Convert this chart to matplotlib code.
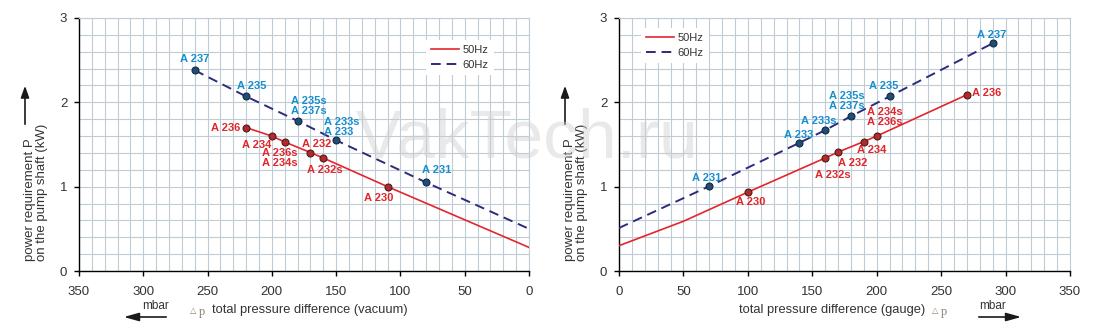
import matplotlib
matplotlib.use("Agg")
import matplotlib.pyplot as plt
from matplotlib.patches import FancyArrowPatch
from matplotlib.ticker import MultipleLocator

plt.rcParams['font.family'] = ['Liberation Sans', 'DejaVu Sans']

# ---------------- data ----------------
# vacuum operation, 50 Hz
vac_50_pumps = ["A 236", "A 234", "A 236s\nA 234s", "A 232", "A 232s", "A 230"]
vac_50_dp = [220, 200, 190, 170, 160, 110]
vac_50_kw = [1.70, 1.60, 1.53, 1.405, 1.34, 1.00]
vac_50_tail_dp = [0]
vac_50_tail_kw = [0.28]

# vacuum operation, 60 Hz
vac_60_pumps = ["A 237", "A 235", "A 235s\nA 237s", "A 233s\nA 233", "A 231"]
vac_60_dp = [260, 220, 180, 150, 80]
vac_60_kw = [2.38, 2.07, 1.78, 1.55, 1.05]
vac_60_tail_dp = [0]
vac_60_tail_kw = [0.50]

# pressure operation, 50 Hz
prs_50_pumps = ["A 230", "A 232s", "A 232", "A 234", "A 234s\nA 236s", "A 236"]
prs_50_dp = [100, 160, 170, 190, 200, 270]
prs_50_kw = [0.935, 1.34, 1.41, 1.535, 1.60, 2.09]
prs_50_head_dp = [0, 50]
prs_50_head_kw = [0.30, 0.59]

# pressure operation, 60 Hz
prs_60_pumps = ["A 231", "A 233", "A 233s", "A 235s\nA 237s", "A 235", "A 237"]
prs_60_dp = [70, 140, 160, 180, 210, 290]
prs_60_kw = [1.005, 1.52, 1.67, 1.835, 2.07, 2.70]
prs_60_head_dp = [0]
prs_60_head_kw = [0.51]

x_ticks = [0, 50, 100, 150, 200, 250, 300, 350]
y_ticks = [0, 1, 2, 3]

# ---------------- styling ----------------
W, H = 1096, 335
RED = '#e3262b'
NAVY = '#2e2a7c'
RED_TXT = '#e0262b'
BLUE_TXT = '#168fcf'
GRID = '#c0cbd8'
TXT = '#333333'

# label placement: (dx px, dy px, ha, va, multialignment); dy positive = up
vac_50_place = [(-6, 0, 'right', 'center', 'center'),
                (-15, -9, 'center', 'center', 'center'),
                (-5, -16, 'center', 'center', 'center'),
                (6, 9, 'center', 'center', 'center'),
                (2, -12, 'center', 'center', 'center'),
                (-9, -11, 'center', 'center', 'center')]
vac_60_place = [(0, 11, 'center', 'center', 'center'),
                (6, 10, 'center', 'center', 'center'),
                (11, 15, 'center', 'center', 'center'),
                (-12, 13, 'left', 'center', 'left'),
                (10, 12, 'center', 'center', 'center')]
prs_50_place = [(3, -10, 'center', 'center', 'center'),
                (8, -17, 'center', 'center', 'center'),
                (15, -11, 'center', 'center', 'center'),
                (8, -8, 'center', 'center', 'center'),
                (8, 19, 'center', 'center', 'center'),
                (5, 2, 'left', 'center', 'center')]
prs_60_place = [(-3, 8, 'center', 'center', 'center'),
                (-1, 8, 'center', 'center', 'center'),
                (-6, 9, 'center', 'center', 'center'),
                (-4, 15, 'center', 'center', 'center'),
                (-6, 10, 'center', 'center', 'center'),
                (-1, 8, 'center', 'center', 'center')]

fig = plt.figure(figsize=(W / 100, H / 100), dpi=100)


def fx(px):
    return px / W


def fy(py):
    return 1 - py / H


def make_axes(left_px, right_px, invert):
    ax = fig.add_axes([fx(left_px), fy(271), (right_px - left_px) / W, 253 / H])
    ax.set_xlim((350, 0) if invert else (0, 350))
    ax.set_ylim(0, 3)
    ax.set_xticks(x_ticks)
    ax.set_yticks(y_ticks)
    ax.xaxis.set_minor_locator(MultipleLocator(10))
    ax.yaxis.set_minor_locator(MultipleLocator(0.2))
    ax.grid(which='both', color=GRID, lw=0.8, zorder=0)
    ax.set_axisbelow(True)
    ax.tick_params(which='major', direction='out', length=3.5, width=1,
                   color='black', labelsize=9.5, labelcolor=TXT)
    ax.tick_params(axis='x', which='major', pad=7)
    ax.tick_params(axis='y', which='major', pad=5)
    ax.tick_params(which='minor', length=0)
    for s in ('left', 'bottom'):
        ax.spines[s].set_color('black')
        ax.spines[s].set_linewidth(1.0)
    for s in ('top', 'right'):
        ax.spines[s].set_color(GRID)
        ax.spines[s].set_linewidth(0.8)
    return ax


def draw_series(ax, dp, kw, line_dp, line_kw, color, dashed, label):
    line, = ax.plot(line_dp, line_kw, color=color, lw=1.4 if dashed else 1.2,
                    label=label, zorder=3)
    if dashed:
        line.set_dashes((5, 3))
    face = '#b42a2a' if color == RED else '#1f4f78'
    edge = '#4a1c1c' if color == RED else '#152a40'
    ax.plot(dp, kw, 'o', ms=5, mfc=face, mec=edge, mew=0.8, zorder=4)


def draw_labels(ax, dp, kw, names, place, color):
    for x, y, name, (dx, dy, ha, va, ma) in zip(dp, kw, names, place):
        ax.annotate(name, (x, y), xytext=(dx, dy), textcoords='offset pixels',
                    ha=ha, va=va, multialignment=ma, fontsize=8,
                    fontweight='bold', color=color, linespacing=0.95, zorder=5)


def arrow(p0, p1, head_length):
    fig.add_artist(FancyArrowPatch(
        (fx(p0[0]), fy(p0[1])), (fx(p1[0]), fy(p1[1])),
        transform=fig.transFigure,
        arrowstyle='-|>,head_length=%g,head_width=2.5' % head_length,
        lw=1.2, color='#1a1a1a', mutation_scale=1))


def y_caption(x_px):
    fig.text(fx(x_px), fy(261), "power requirement P\non the pump shaft (kW)",
             rotation=90, ha='center', va='bottom', multialignment='left',
             fontsize=9.5, color=TXT, linespacing=0.95)
    arrow((x_px - 11, 127), (x_px - 11, 83), 7)


def x_caption(text, text_x, delta_x, mbar_x, arrow_from, arrow_to):
    fig.text(fx(text_x), fy(310), text, ha='left', va='center',
             fontsize=9.3, color=TXT)
    fig.text(fx(delta_x), fy(311), "\u25b3", ha='left', va='center',
             fontsize=6, color='#8f8070', family=['DejaVu Sans'])
    fig.text(fx(delta_x + 9), fy(312), "p", ha='left', va='center',
             fontsize=9, color='#8f8070',
             family=['Liberation Serif', 'DejaVu Serif'])
    fig.text(fx(mbar_x), fy(306), "mbar", ha='center', va='center',
             fontsize=8.5, color=TXT)
    arrow((arrow_from, 317), (arrow_to, 317), 9)


def legend(ax, anchor):
    leg = ax.legend(loc='upper left', bbox_to_anchor=anchor, fontsize=8,
                    frameon=True, fancybox=False, edgecolor='none',
                    facecolor='white', framealpha=1, handlelength=2.5,
                    handletextpad=0.35, labelspacing=0.45, borderpad=0.45,
                    borderaxespad=0)
    for t in leg.get_texts():
        t.set_color(TXT)
    leg.set_zorder(6)


# ---------------- vacuum chart ----------------
ax1 = make_axes(79, 529, invert=True)
draw_series(ax1, vac_50_dp, vac_50_kw, vac_50_dp + vac_50_tail_dp,
            vac_50_kw + vac_50_tail_kw, RED, False, '50Hz')
draw_series(ax1, vac_60_dp, vac_60_kw, vac_60_dp + vac_60_tail_dp,
            vac_60_kw + vac_60_tail_kw, NAVY, True, '60Hz')
draw_labels(ax1, vac_50_dp, vac_50_kw, vac_50_pumps, vac_50_place, RED_TXT)
draw_labels(ax1, vac_60_dp, vac_60_kw, vac_60_pumps, vac_60_place, BLUE_TXT)
legend(ax1, ((426 - 79) / 450, (271 - 40) / 253))
y_caption(36)
x_caption("total pressure difference (vacuum)", 212, 190, 156, 169, 121)

# ---------------- pressure chart ----------------
ax2 = make_axes(619, 1070, invert=False)
draw_series(ax2, prs_50_dp, prs_50_kw, prs_50_head_dp + prs_50_dp,
            prs_50_head_kw + prs_50_kw, RED, False, '50Hz')
draw_series(ax2, prs_60_dp, prs_60_kw, prs_60_head_dp + prs_60_dp,
            prs_60_head_kw + prs_60_kw, NAVY, True, '60Hz')
draw_labels(ax2, prs_50_dp, prs_50_kw, prs_50_pumps, prs_50_place, RED_TXT)
draw_labels(ax2, prs_60_dp, prs_60_kw, prs_60_pumps, prs_60_place, BLUE_TXT)
legend(ax2, ((641 - 619) / 451, (271 - 28) / 253))
y_caption(576)
x_caption("total pressure difference (gauge)", 739, 932, 993, 976, 1024)

# faint site mark across the middle
fig.text(fx(527), fy(157), "VakTech.ru", ha='center', va='baseline',
         fontsize=50, color='#cfcfcf', alpha=0.45, zorder=10)

fig.savefig("out.png", dpi=100)
